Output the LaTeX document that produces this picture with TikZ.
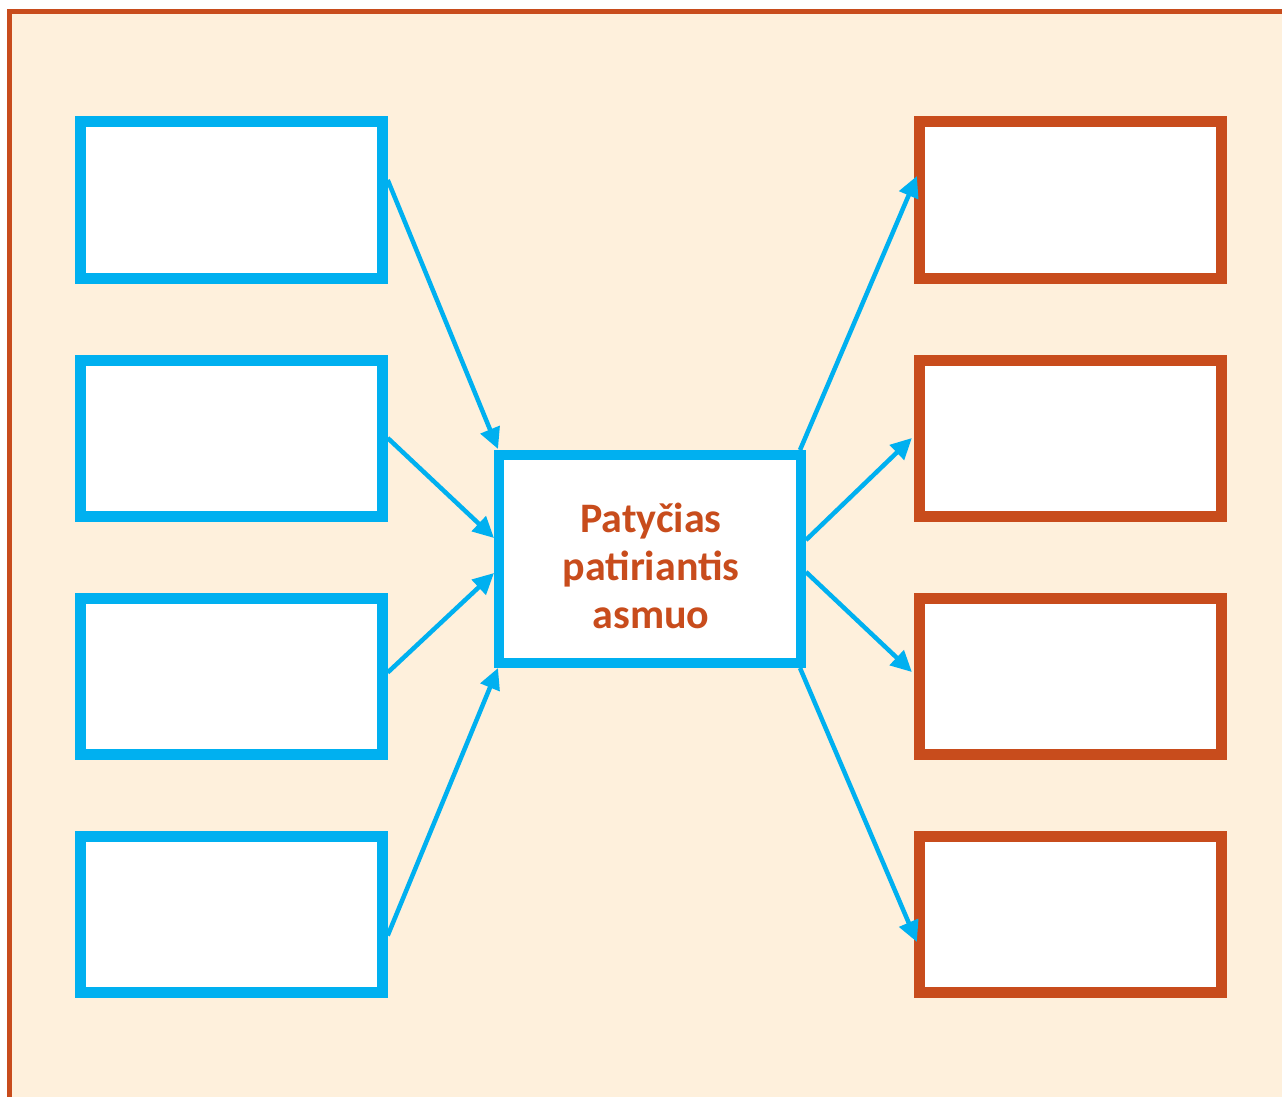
\documentclass[tikz,border=0pt]{standalone}
\usepackage{fontspec}
\newfontfamily\calib{Carlito}
\usetikzlibrary{arrows.meta,calc}
\definecolor{bgbeige}{HTML}{FEF0DC}
\definecolor{frameorange}{HTML}{C84C1C}
\definecolor{boxblue}{HTML}{00B0F0}
\tikzset{
  bluebox/.style={draw=boxblue, line width=11pt, fill=white, minimum width=302pt, minimum height=156pt, inner sep=0pt},
  orangebox/.style={draw=frameorange, line width=11pt, fill=white, minimum width=302pt, minimum height=156pt, inner sep=0pt},
  centerbox/.style={draw=boxblue, line width=10pt, fill=white, minimum width=302pt, minimum height=208pt, inner sep=0pt},
  conn/.style={draw=boxblue, line width=4.5pt, -{Triangle[length=21pt,width=20pt]}}
}
\begin{document}
\begin{tikzpicture}[x=1pt,y=-1pt]
\useasboundingbox (0,0) rectangle (1282,1097);
\clip (0,0) rectangle (1282,1097);
\draw[frameorange, line width=5pt, fill=bgbeige] (9.5,11.5) rectangle (1300,1120);
% left boxes
\node[bluebox] (l1) at (231.2,200) {};
\node[bluebox] (l2) at (231.2,438) {};
\node[bluebox] (l3) at (231.2,676.5) {};
\node[bluebox] (l4) at (231.2,914.5) {};
% right boxes
\node[orangebox] (r1) at (1070.4,200) {};
\node[orangebox] (r2) at (1070.4,438) {};
\node[orangebox] (r3) at (1070.4,676.5) {};
\node[orangebox] (r4) at (1070.4,914.5) {};
% center
\node[centerbox] (c) at (650,559) {};
\node[text=frameorange, align=center, font=\calib\bfseries\fontsize{42}{48}\selectfont] (ct) at (651,566) {Patyčias\\patiriantis\\asmuo};
% connectors in
\draw[conn] ([yshift=20pt]l1.east) -- ([xshift=4pt,yshift=1pt]c.north west);
\draw[conn] (l2.east) -- ([yshift=21pt]c.west);
\draw[conn] ([yshift=4pt]l3.east) -- ([yshift=-14pt]c.west);
\draw[conn] ([yshift=-21pt]l4.east) -- ([xshift=4pt]c.south west);
% connectors out
\draw[conn] ([xshift=-6pt]c.north east) -- ([xshift=3pt,yshift=24pt]r1.west);
\draw[conn] ([yshift=19pt]c.east) -- ([xshift=-2pt]r2.west);
\draw[conn] ([yshift=-13pt]c.east) -- ([xshift=-2pt,yshift=4.5pt]r3.west);
\draw[conn] ([xshift=-6pt]c.south east) -- ([xshift=3pt,yshift=-27.5pt]r4.west);
\end{tikzpicture}
\end{document}
